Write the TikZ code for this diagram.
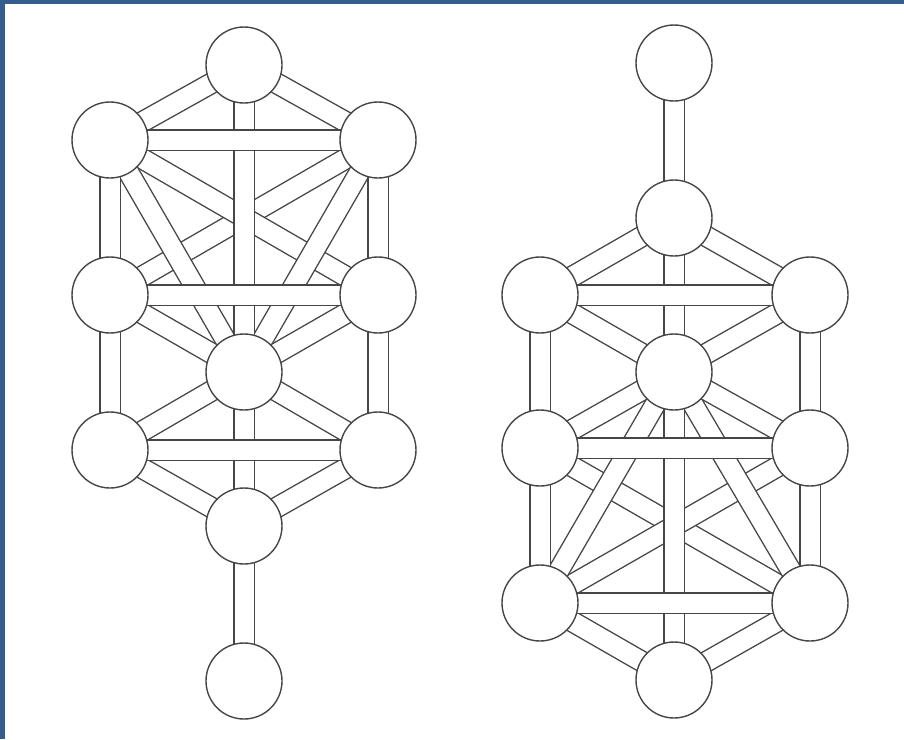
\documentclass[tikz,border=0pt]{standalone}
\pgfdeclarelayer{bg}
\pgfdeclarelayer{bands}
\pgfsetlayers{bg,bands,main}
\definecolor{linec}{RGB}{70,70,70}
\definecolor{framec}{RGB}{52,92,140}
\begin{document}
\begin{tikzpicture}[x=1pt,y=-1pt,
  sephira/.style={circle,draw=linec,line width=1.4pt,fill=white,minimum size=76pt,inner sep=0pt},
  band/.style={draw=linec,line width=1.4pt,double=white,double distance=19pt}]
\begin{pgfonlayer}{bg}
\fill[white] (0,0) rectangle (904,739);
\fill[framec] (0,0) rectangle (904,4);
\fill[framec] (0,0) rectangle (5,739);
\end{pgfonlayer}
\useasboundingbox (0,0) rectangle (904,739);
% left tree
\node[sephira] (LK)  at (244,65)  {};
\node[sephira] (LCh) at (378,140) {};
\node[sephira] (LBi) at (110,140) {};
\node[sephira] (LCs) at (378,295) {};
\node[sephira] (LGe) at (110,295) {};
\node[sephira] (LTi) at (244,372) {};
\node[sephira] (LNz) at (378,450) {};
\node[sephira] (LHd) at (110,450) {};
\node[sephira] (LYs) at (244,526) {};
\node[sephira] (LMk) at (244,681) {};
% right tree (inverted)
\node[sephira] (RK)  at (674,680) {};
\node[sephira] (RCh) at (810,603) {};
\node[sephira] (RBi) at (540,603) {};
\node[sephira] (RCs) at (810,448) {};
\node[sephira] (RGe) at (540,448) {};
\node[sephira] (RTi) at (674,372) {};
\node[sephira] (RNz) at (810,295) {};
\node[sephira] (RHd) at (540,295) {};
\node[sephira] (RYs) at (674,218) {};
\node[sephira] (RMk) at (674,63)  {};
\begin{pgfonlayer}{bands}
\foreach \p in {L,R}{
  \foreach \a/\b in {Ch/Ge,Bi/Cs,Ch/Ti,Bi/Ti,Cs/Ti,Ge/Ti,Ti/Nz,Ti/Hd,Nz/Ys,Hd/Ys,K/Ch,K/Bi,Ch/Cs,Bi/Ge,Cs/Nz,Ge/Hd}
    {\draw[band] (\p\a.center) -- (\p\b.center);}
  \draw[band] (\p K.center) -- (\p Ti.center);
  \draw[band] (\p Ti.center) -- (\p Ys.center);
  \draw[band] (\p Ys.center) -- (\p Mk.center);
  \foreach \a/\b in {Ch/Bi,Cs/Ge,Nz/Hd}
    {\draw[band] (\p\a.center) -- (\p\b.center);}
}
\end{pgfonlayer}
\end{tikzpicture}
\end{document}
